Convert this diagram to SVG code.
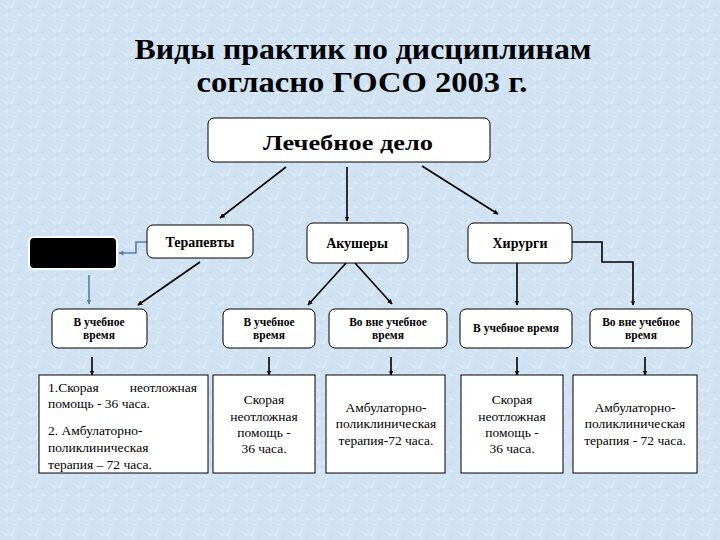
<svg xmlns="http://www.w3.org/2000/svg" width="720" height="540" viewBox="0 0 720 540">
<defs>
<marker id="ah" viewBox="0 0 10 10" refX="9" refY="5" markerWidth="5" markerHeight="5" orient="auto" markerUnits="userSpaceOnUse"><path d="M0,0 L10,5 L0,10 z" fill="#000"/></marker>
<marker id="ahb" viewBox="0 0 10 10" refX="9" refY="5" markerWidth="5" markerHeight="5" orient="auto" markerUnits="userSpaceOnUse"><path d="M0,0 L10,5 L0,10 z" fill="#5b7ea6"/></marker>
<pattern id="tex" width="24" height="24" patternUnits="userSpaceOnUse">
<rect width="24" height="24" fill="#d1e2f2"/>
<path d="M2,4 l5,3 M14,2 l-3,6 M18,14 l4,2 M5,17 l3,-4 M12,20 l5,1" stroke="#e6f0f9" stroke-width="1.2" fill="none"/>
<path d="M8,10 l3,2 M20,6 l-2,4 M2,22 l3,-2" stroke="#c3d7ec" stroke-width="1" fill="none"/>
</pattern>
<style>
.bx{fill:#fff;stroke:#000;stroke-width:1}
.ln{stroke:#000;stroke-width:1.6;fill:none;marker-end:url(#ah)}
.bl{stroke:#5b7ea6;stroke-width:1.6;fill:none;marker-end:url(#ahb)}
.t{font-family:"Liberation Serif","Times New Roman",serif;fill:#000}
.ttl{font-size:30px;font-weight:bold;text-anchor:middle}
.h1{font-size:22px;font-weight:bold;text-anchor:middle}
.h2{font-size:14px;font-weight:bold;text-anchor:middle}
.h3{font-size:11.5px;font-weight:bold;text-anchor:middle}
.b{font-size:13.5px}
.c{text-anchor:middle}
</style>
</defs>
<rect width="720" height="540" fill="url(#tex)"/>
<g id="title">
<text class="t ttl" x="363" y="59" textLength="457" lengthAdjust="spacingAndGlyphs">Виды практик по дисциплинам</text>
<text class="t ttl" x="362" y="92" textLength="331" lengthAdjust="spacingAndGlyphs">согласно ГОСО 2003 г.</text>
</g>
<g id="connectors">
<line class="ln" x1="286" y1="167" x2="220" y2="218"/>
<line class="ln" x1="347" y1="167" x2="347" y2="221"/>
<line class="ln" x1="422" y1="166" x2="498" y2="214"/>
<path class="bl" d="M147,242 H136 V253 H119"/>
<line class="bl" x1="89" y1="275" x2="89" y2="304"/>
<line class="ln" x1="200" y1="262" x2="138" y2="305"/>
<line class="ln" x1="346" y1="263" x2="308" y2="305"/>
<line class="ln" x1="355" y1="263" x2="392" y2="304"/>
<line class="ln" x1="517" y1="263" x2="517" y2="305"/>
<path class="ln" d="M572,242 H602 V262 H633 V305"/>
<line class="ln" x1="92" y1="357" x2="92" y2="375"/>
<line class="ln" x1="269" y1="357" x2="269" y2="375"/>
<line class="ln" x1="391" y1="357" x2="391" y2="375"/>
<line class="ln" x1="517" y1="357" x2="517" y2="375"/>
<line class="ln" x1="645" y1="357" x2="645" y2="375"/>
</g>
<g id="root">
<rect class="bx" x="208" y="118" width="282" height="44" rx="6"/>
<text class="t h1" x="348" y="150" textLength="170" lengthAdjust="spacingAndGlyphs">Лечебное дело</text>
</g>
<g id="black">
<rect x="29" y="237" width="88" height="32" rx="5" fill="#000" stroke="#fff" stroke-width="2"/>
</g>
<g id="terapevty">
<rect class="bx" x="147" y="225" width="106" height="33" rx="6"/>
<text class="t h2" x="200" y="247">Терапевты</text>
</g>
<g id="akushery">
<rect class="bx" x="307" y="223" width="101" height="40" rx="6"/>
<text class="t h2" x="357" y="248">Акушеры</text>
</g>
<g id="khirurgi">
<rect class="bx" x="468" y="223" width="104" height="40" rx="6"/>
<text class="t h2" x="520" y="248">Хирурги</text>
</g>
<g id="t-ucheb">
<rect class="bx" x="52" y="309" width="95" height="39" rx="6"/>
<text class="t h3" x="99" y="326">В учебное</text>
<text class="t h3" x="99" y="339">время</text>
</g>
<g id="a-ucheb">
<rect class="bx" x="223" y="309" width="92" height="39" rx="6"/>
<text class="t h3" x="269" y="326">В учебное</text>
<text class="t h3" x="269" y="339">время</text>
</g>
<g id="a-vne">
<rect class="bx" x="329" y="309" width="118" height="39" rx="6"/>
<text class="t h3" x="388" y="326">Во вне учебное</text>
<text class="t h3" x="388" y="339">время</text>
</g>
<g id="k-ucheb">
<rect class="bx" x="460" y="309" width="112" height="39" rx="6"/>
<text class="t h3" x="516" y="332">В учебное время</text>
</g>
<g id="k-vne">
<rect class="bx" x="590" y="309" width="102" height="39" rx="6"/>
<text class="t h3" x="641" y="326">Во вне учебное</text>
<text class="t h3" x="641" y="339">время</text>
</g>
<g id="d1">
<rect class="bx" x="39" y="375" width="169" height="98"/>
<text class="t b" x="48" y="392">1.Скорая</text>
<text class="t b" x="197" y="392" text-anchor="end">неотложная</text>
<text class="t b" x="48" y="408">помощь - 36 часа.</text>
<text class="t b" x="48" y="435">2. Амбулаторно-</text>
<text class="t b" x="48" y="452">поликлиническая</text>
<text class="t b" x="48" y="469">терапия – 72 часа.</text>
</g>
<g id="d2">
<rect class="bx" x="213" y="375" width="102" height="98"/>
<text class="t b c" x="264" y="404">Скорая</text>
<text class="t b c" x="264" y="421">неотложная</text>
<text class="t b c" x="264" y="437">помощь -</text>
<text class="t b c" x="264" y="453">36 часа.</text>
</g>
<g id="d3">
<rect class="bx" x="326" y="375" width="119" height="98"/>
<text class="t b c" x="386" y="412">Амбулаторно-</text>
<text class="t b c" x="386" y="428">поликлиническая</text>
<text class="t b c" x="386" y="445">терапия-72 часа.</text>
</g>
<g id="d4">
<rect class="bx" x="461" y="375" width="102" height="98"/>
<text class="t b c" x="512" y="404">Скорая</text>
<text class="t b c" x="512" y="421">неотложная</text>
<text class="t b c" x="512" y="437">помощь -</text>
<text class="t b c" x="512" y="453">36 часа.</text>
</g>
<g id="d5">
<rect class="bx" x="573" y="375" width="124" height="98"/>
<text class="t b c" x="635" y="412">Амбулаторно-</text>
<text class="t b c" x="635" y="428">поликлиническая</text>
<text class="t b c" x="635" y="445">терапия - 72 часа.</text>
</g>
</svg>
